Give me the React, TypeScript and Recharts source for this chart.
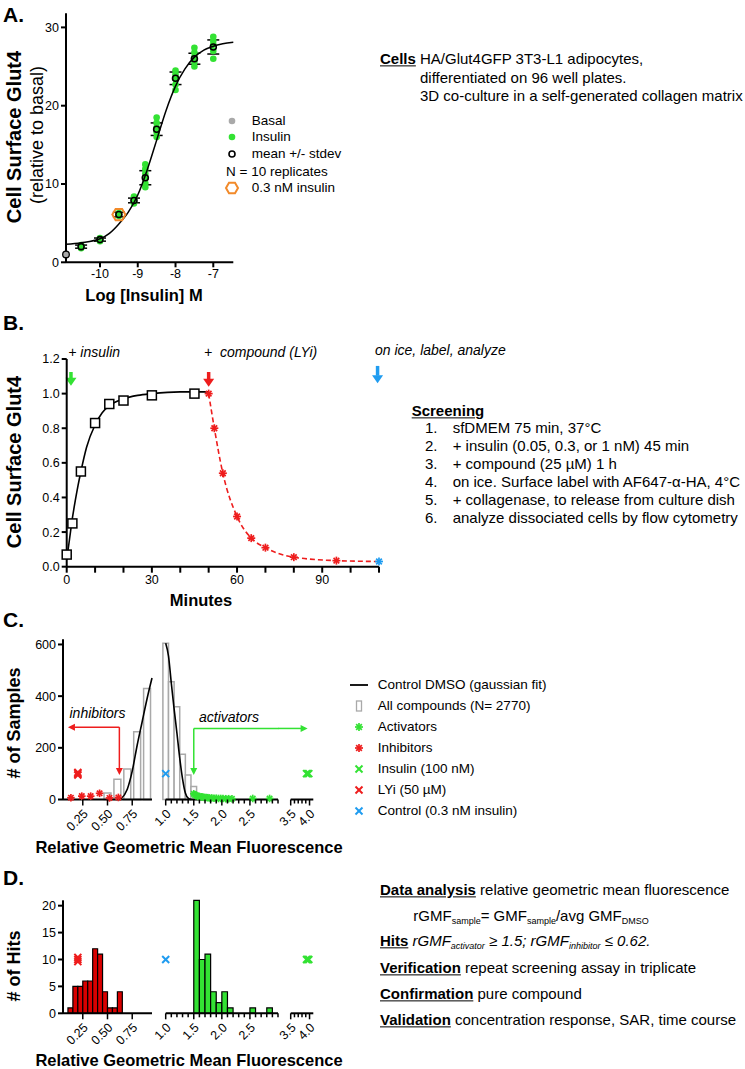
import React from "react";
import {
  ScatterChart,
  Scatter,
  XAxis,
  YAxis,
  ErrorBar,
  ReferenceLine,
  ReferenceArea,
} from "recharts";

const FONT = "'Liberation Sans', Arial, Helvetica, sans-serif";
const GREEN = "#33e233";
const RED = "#ee1d1d";
const BLUE = "#1f9cf0";
const ORANGE = "#f28a2a";
const GRAY = "#a9a9a9";
const DRED = "#d90000";

// ---------- A: insulin dose response ----------
const logInsulin = [-10.5, -10, -9.5, -9.1, -8.8, -8.5, -8, -7.5, -7];
const meanGlut4 = [2.0, 2.9, 6.1, 7.9, 10.8, 17.0, 23.5, 26.0, 27.5];
const sdGlut4 = [0.2, 0.2, 0.3, 0.3, 0.9, 0.8, 0.8, 0.7, 0.9];
const replicates = [
  [1.8, 2.0, 2.2],
  [2.7, 2.9, 3.1],
  [5.9, 6.1, 6.3],
  [7.5, 7.8, 8.1, 8.4],
  [9.6, 10.1, 10.7, 11.3, 11.9, 12.5],
  [16.0, 16.6, 17.2, 17.8, 18.5],
  [22.0, 22.7, 23.4, 24.0, 24.5],
  [25.0, 25.6, 26.2, 26.8, 27.4],
  [26.0, 27.0, 27.8, 28.3, 28.8],
];
const basalLog = [-10.9];
const basalGlut4 = [1.0];
const lowDoseLog = [-9.5];
const lowDoseGlut4 = [6.1];
const fitLog = [-10.9, -10.5, -10, -9.75, -9.5, -9.25, -9, -8.75, -8.5, -8.25, -8, -7.75, -7.5, -7.25, -7, -6.75, -6.47];
const fitGlut4 = [2.3, 2.5, 3.0, 3.7, 4.9, 6.4, 8.6, 11.8, 15.6, 19.4, 22.5, 24.7, 26.2, 27.1, 27.6, 27.9, 28.1];

// ---------- B: time course ----------
const riseMin = [0, 2, 5, 10, 15, 20, 30, 45];
const riseGlut4 = [0.07, 0.25, 0.55, 0.83, 0.94, 0.96, 0.99, 1.0];
const riseFitMin = [0, 1, 2, 3, 4, 5, 7, 10, 12.5, 15, 20, 25, 30, 40, 50];
const riseFitGlut4 = [0.04, 0.16, 0.28, 0.38, 0.47, 0.55, 0.69, 0.82, 0.89, 0.93, 0.97, 0.99, 1.0, 1.01, 1.01];
const decayMin = [50, 52, 55, 60, 65, 70, 80, 95];
const decayGlut4 = [1.0, 0.8, 0.54, 0.29, 0.165, 0.11, 0.055, 0.035];
const decayFitMin = [50, 52, 55, 60, 65, 70, 80, 95, 110];
const decayFitGlut4 = [1.0, 0.8, 0.54, 0.29, 0.165, 0.11, 0.055, 0.035, 0.03];
const iceMin = [110];
const iceGlut4 = [0.03];
const bTicks = [0, 10, 20, 30, 40, 50, 60, 70, 80, 90, 100, 110];
const bLabels = ["0", "", "", "30", "", "", "60", "", "", "90", "", ""];

// ---------- C: screen distribution ----------
const allBinMid = [0.5, 0.6, 0.7, 0.8, 0.9, 1.0, 1.1, 1.2, 1.3, 1.4, 1.5];
const allBinCount = [25, 78, 118, 262, 430, 605, 456, 359, 175, 95, 50];
const dmsoFitLeftX = [0.63, 0.7, 0.75, 0.8, 0.85, 0.9, 0.95];
const dmsoFitLeftY = [0, 40, 110, 210, 300, 390, 470];
const dmsoFitRightX = [1.0, 1.05, 1.1, 1.15, 1.2, 1.25, 1.3, 1.35, 1.4, 1.45];
const dmsoFitRightY = [605, 555, 450, 350, 257, 160, 80, 25, 5, 0];
const inhibX = [0.13, 0.24, 0.33, 0.42, 0.52, 0.61];
const inhibY = [7, 13, 13, 24, 6, 8];
const activX = [1.5, 1.52, 1.55, 1.57, 1.6, 1.63, 1.66, 1.69, 1.72, 1.75, 1.78, 1.82, 1.86, 1.9, 1.94, 1.98, 2.02, 2.07, 2.12, 2.18, 2.55, 2.85];
const activY = [22, 18, 15, 12, 12, 10, 10, 8, 8, 7, 6, 6, 5, 5, 4, 4, 4, 3, 3, 3, 4, 4];
const lyiX = [0.2, 0.2, 0.2];
const lyiYC = [95, 100, 105];
const ctrlX = [1.0];
const ctrlYC = [100];
const insX = [3.92, 3.95, 3.98];
const insYC = [100, 100, 100];

// ---------- D: hits ----------
const inhibBinStart = [0.1, 0.15, 0.2, 0.25, 0.3, 0.35, 0.4, 0.45, 0.5, 0.55, 0.6];
const inhibHits = [1, 5, 5, 6, 6, 12, 11, 4, 1, 1, 4];
const activBinStart = [1.5, 1.6, 1.7, 1.8, 1.9, 2.0, 2.1, 2.5, 2.8];
const activHits = [21, 10, 11, 4, 2, 4, 1, 1, 1];
const lyiYD = [9.6, 10, 10.4];
const ctrlYD = [10];
const insYD = [10, 10, 10];

// broken x axis segments (C and D)
const seg1Ticks = [0.25, 0.5, 0.75];
const seg1Labels = ["0.25", "0.50", "0.75"];
const seg2Ticks = [1.0, 1.1, 1.2, 1.3, 1.4, 1.5, 1.6, 1.7, 1.8, 1.9, 2.0, 2.1, 2.2, 2.3, 2.4, 2.5, 2.6, 2.7, 2.8, 2.9, 3.0];
const seg2Labels = ["1.0", "", "", "", "", "1.5", "", "", "", "", "2.0", "", "", "", "", "2.5", "", "", "", "", ""];
const seg3Ticks = [3.5, 3.6, 3.7, 3.8, 3.9, 4.0];
const seg3Labels = ["3.5", "", "", "", "", "4.0"];

const pts = (xs: number[], ys: number[]) => xs.map((x, i) => ({ x, y: ys[i] }));

// ---------- marker shapes ----------
const Nothing = () => <g />;
const dot = (r: number, fill: string, stroke = "none", sw = 0) => (p: any) => (
  <circle cx={p.cx} cy={p.cy} r={r} fill={fill} stroke={stroke} strokeWidth={sw} />
);
const square = (p: any) => (
  <rect x={p.cx - 4.5} y={p.cy - 4.5} width={9} height={9} fill="#fff" stroke="#000" strokeWidth={1.5} />
);
const star = (color: string, r = 4) => (p: any) => {
  const d = r * 0.707;
  return (
    <g stroke={color} strokeWidth={1.7}>
      <line x1={p.cx - r} y1={p.cy} x2={p.cx + r} y2={p.cy} />
      <line x1={p.cx} y1={p.cy - r} x2={p.cx} y2={p.cy + r} />
      <line x1={p.cx - d} y1={p.cy - d} x2={p.cx + d} y2={p.cy + d} />
      <line x1={p.cx - d} y1={p.cy + d} x2={p.cx + d} y2={p.cy - d} />
    </g>
  );
};
const cross = (color: string, r = 3.5) => (p: any) => (
  <g stroke={color} strokeWidth={2}>
    <line x1={p.cx - r} y1={p.cy - r} x2={p.cx + r} y2={p.cy + r} />
    <line x1={p.cx - r} y1={p.cy + r} x2={p.cx + r} y2={p.cy - r} />
  </g>
);
const hexPath = (cx: number, cy: number, r: number) =>
  [0, 1, 2, 3, 4, 5]
    .map((k) => {
      const a = (Math.PI / 3) * k;
      return `${k === 0 ? "M" : "L"}${cx + r * Math.cos(a)},${cy + r * Math.sin(a)}`;
    })
    .join("") + "Z";
const hexagon = (p: any) => <path d={hexPath(p.cx, p.cy, 6.5)} fill="none" stroke={ORANGE} strokeWidth={2} />;

// arrow drawn along a reference segment
const arrow = (color: string, w: number, head: boolean, hl: number, hw: number, extendStart = 0) => (p: any) => {
  const { x1, y1, x2, y2 } = p;
  const dx = x2 - x1;
  const dy = y2 - y1;
  const len = Math.hypot(dx, dy) || 1;
  const ux = dx / len;
  const uy = dy / len;
  const sx = x1 - ux * extendStart;
  const sy = y1 - uy * extendStart;
  const ex = head ? x2 - ux * hl : x2;
  const ey = head ? y2 - uy * hl : y2;
  return (
    <g>
      <line x1={sx} y1={sy} x2={ex + ux * 0.5} y2={ey + uy * 0.5} stroke={color} strokeWidth={w} />
      {head && (
        <polygon
          points={`${x2},${y2} ${ex - uy * hw},${ey + ux * hw} ${ex + uy * hw},${ey - ux * hw}`}
          fill={color}
        />
      )}
    </g>
  );
};

const axisStyle = { stroke: "#000", strokeWidth: 2 };
const tickStyle = { fill: "#000", fontSize: 12.5, fontFamily: FONT };

const segTick = (ticks: number[], labels: string[]) => (p: any) => {
  const v = p.payload.value;
  const i = ticks.findIndex((t) => Math.abs(t - v) < 1e-6);
  const lab = i >= 0 ? labels[i] : "";
  const len = lab ? 6 : 4;
  const tx = p.x + 6;
  const ty = p.y + 15;
  return (
    <g>
      <line x1={p.x} y1={p.y} x2={p.x} y2={p.y + len} stroke="#000" strokeWidth={1.5} />
      {lab && (
        <text x={tx} y={ty} transform={`rotate(-45 ${tx} ${ty})`} textAnchor="end" fontSize={12.5} fill="#000" fontFamily={FONT}>
          {lab}
        </text>
      )}
    </g>
  );
};

const T = ({ x, y, size = 15, bold = false, italic = false, anchor = "start", children }: any) => (
  <div
    style={{
      position: "absolute",
      left: x,
      top: y,
      transform: `translate(${anchor === "middle" ? "-50%" : anchor === "end" ? "-100%" : "0"}, -50%)`,
      fontSize: size,
      fontWeight: bold ? 700 : 400,
      fontStyle: italic ? "italic" : "normal",
      whiteSpace: "nowrap",
      lineHeight: 1.15,
    }}
  >
    {children}
  </div>
);

const VT = ({ x, y, size = 18, bold = true, children }: any) => (
  <div
    style={{
      position: "absolute",
      left: x,
      top: y,
      transform: "translate(-50%, -50%) rotate(-90deg)",
      fontSize: size,
      fontWeight: bold ? 700 : 400,
      whiteSpace: "nowrap",
      lineHeight: 1,
    }}
  >
    {children}
  </div>
);

const Sub = ({ children }: any) => <sub style={{ fontSize: 9, verticalAlign: "-3px" }}>{children}</sub>;

const Mk = ({ children }: any) => (
  <svg width={16} height={14} style={{ position: "absolute", left: -8, top: -7, overflow: "visible" }}>
    {children}
  </svg>
);

const LegendItem = ({ x, tx, y, marker, children, size = 13.5 }: any) => (
  <>
    <div style={{ position: "absolute", left: x, top: y, width: 0, height: 0 }}>
      <Mk>{marker}</Mk>
    </div>
    <T x={tx} y={y} size={size}>
      {children}
    </T>
  </>
);

// ---------- broken axis segment chart ----------
const SEGS = [
  { left: 0, width: 158, ml: 0, mr: 6, yw: 63, domain: [0.05, 0.95], ticks: seg1Ticks, labels: seg1Labels },
  { left: 158, width: 120, ml: 7.7, mr: 0, yw: 0, domain: [1.0, 3.0], ticks: seg2Ticks, labels: seg2Labels },
  { left: 278, width: 52, ml: 12.7, mr: 16.7, yw: 0, domain: [3.5, 4.1], ticks: seg3Ticks, labels: seg3Labels },
];

function SegChart({ seg, top, height, mt, yDomain, yTicks, children }: any) {
  return (
    <div style={{ position: "absolute", left: seg.left, top }}>
      <ScatterChart width={seg.width} height={height} margin={{ top: mt, right: seg.mr, bottom: 0, left: seg.ml }}>
        <XAxis
          type="number"
          dataKey="x"
          domain={seg.domain}
          ticks={seg.ticks}
          interval={0}
          height={40}
          axisLine={axisStyle}
          tickLine={false}
          tickSize={0}
          tickMargin={0}
          tick={segTick(seg.ticks, seg.labels)}
        />
        <YAxis
          type="number"
          dataKey="y"
          domain={yDomain}
          ticks={yTicks}
          interval={0}
          hide={seg.yw === 0}
          width={seg.yw}
          axisLine={axisStyle}
          tickLine={axisStyle}
          tickSize={5}
          tick={tickStyle}
        />
        {children}
      </ScatterChart>
    </div>
  );
}

export default function App() {
  const reps = logInsulin.flatMap((x, i) => replicates[i].map((y) => ({ x, y })));
  const means = logInsulin.map((x, i) => ({ x, y: meanGlut4[i], e: sdGlut4[i] }));

  const cTop = 630;
  const cMt = 9.3;
  const cH = 9.3 + 160.2 + 40;
  const dTop = 890;
  const dMt = 10.3;
  const dH = 10.3 + 113 + 40;

  const allBarsSeg = (lo: number, hi: number, half: number) =>
    allBinMid
      .map((m, i) => ({ m, c: allBinCount[i] }))
      .filter((b) => b.m >= lo && b.m <= hi)
      .map((b) => (
        <ReferenceArea
          key={`all${b.m}`}
          x1={b.m - half}
          x2={b.m + half}
          y1={0}
          y2={b.c}
          ifOverflow="visible"
          fill="#fff"
          fillOpacity={1}
          stroke={GRAY}
          strokeWidth={1.5}
        />
      ));

  const hitBars = (starts: number[], counts: number[], w: number, color: string) =>
    starts.map((s, i) => (
      <ReferenceArea
        key={`h${s}`}
        x1={s}
        x2={s + w}
        y1={0}
        y2={counts[i]}
        ifOverflow="visible"
        fill={color}
        fillOpacity={1}
        stroke="#000"
        strokeWidth={1.2}
      />
    ));

  return (
    <div
      style={{
        position: "absolute",
        left: 0,
        top: 0,
        width: 745,
        height: 1069,
        background: "#fff",
        fontFamily: FONT,
        color: "#000",
        overflow: "hidden",
      }}
    >
      <style>{`.recharts-surface{overflow:visible}`}</style>

      {/* ---------------- A ---------------- */}
      <T x={3} y={15} size={21} bold>A.</T>
      <div style={{ position: "absolute", left: 0, top: 0 }}>
        <ScatterChart width={250} height={300} margin={{ top: 13.3, right: 16.7, bottom: 0, left: 0 }}>
          <XAxis
            type="number"
            dataKey="x"
            domain={[-10.9, -6.47]}
            ticks={[-10, -9, -8, -7]}
            interval={0}
            height={37.7}
            axisLine={axisStyle}
            tickLine={axisStyle}
            tickSize={5}
            tick={tickStyle}
          />
          <YAxis
            type="number"
            dataKey="y"
            domain={[0, 31.8]}
            ticks={[0, 10, 20, 30]}
            interval={0}
            width={66}
            axisLine={axisStyle}
            tickLine={axisStyle}
            tickSize={5}
            tick={tickStyle}
          />
          <Scatter data={reps} shape={dot(3.3, GREEN)} isAnimationActive={false} />
          <Scatter
            data={pts(fitLog, fitGlut4)}
            shape={Nothing}
            line={{ stroke: "#000", strokeWidth: 1.5 }}
            lineJointType="monotoneX"
            isAnimationActive={false}
          />
          <Scatter data={means} shape={dot(3, "none", "#000", 1.6)} isAnimationActive={false}>
            <ErrorBar dataKey="e" direction="y" width={6} stroke="#000" strokeWidth={1.5} />
          </Scatter>
          <Scatter data={pts(basalLog, basalGlut4)} shape={dot(3.3, GRAY, "#000", 1.3)} isAnimationActive={false} />
          <Scatter data={pts(lowDoseLog, lowDoseGlut4)} shape={hexagon} isAnimationActive={false} />
        </ScatterChart>
      </div>
      <VT x={14} y={137} size={20}>Cell Surface Glut4</VT>
      <VT x={37} y={135} bold={false} size={18}>(relative to basal)</VT>
      <T x={144} y={295} size={16.5} bold anchor="middle">Log [Insulin] M</T>

      <LegendItem x={232} tx={251.7} y={120.7} marker={<circle cx={8} cy={7} r={3.3} fill={GRAY} />}>Basal</LegendItem>
      <LegendItem x={232} tx={251.7} y={137.3} marker={<circle cx={8} cy={7} r={3.3} fill={GREEN} />}>Insulin</LegendItem>
      <LegendItem x={232} tx={251.7} y={154} marker={<circle cx={8} cy={7} r={3} fill="none" stroke="#000" strokeWidth={1.6} />}>mean +/- stdev</LegendItem>
      <T x={226} y={171.7} size={13.5}>N = 10 replicates</T>
      <LegendItem x={232} tx={251.7} y={188.3} marker={<path d={hexPath(8, 7, 6)} fill="none" stroke={ORANGE} strokeWidth={2} />}>0.3 nM insulin</LegendItem>

      <T x={380} y={59.3}>
        <b style={{ textDecoration: "underline" }}>Cells</b> HA/Glut4GFP 3T3-L1 adipocytes,
      </T>
      <T x={420} y={77.7}>differentiated on 96 well plates.</T>
      <T x={420} y={96}>3D co-culture in a self-generated collagen matrix</T>

      {/* ---------------- B ---------------- */}
      <T x={3} y={323.3} size={21} bold>B.</T>
      <div style={{ position: "absolute", left: 0, top: 340 }}>
        <ScatterChart width={400} height={256.7} margin={{ top: 19, right: 21, bottom: 0, left: 0 }}>
          <XAxis
            type="number"
            dataKey="x"
            domain={[0, 110]}
            ticks={bTicks}
            interval={0}
            height={30}
            axisLine={axisStyle}
            tickLine={axisStyle}
            tickSize={6}
            tick={tickStyle}
            tickFormatter={(v: number) => bLabels[bTicks.indexOf(v)] ?? ""}
          />
          <YAxis
            type="number"
            dataKey="y"
            domain={[0, 1.2]}
            ticks={[0, 0.2, 0.4, 0.6, 0.8, 1.0, 1.2]}
            interval={0}
            width={66.7}
            axisLine={axisStyle}
            tickLine={axisStyle}
            tickSize={5}
            tick={tickStyle}
            tickFormatter={(v: number) => v.toFixed(1)}
          />
          <Scatter
            data={pts(riseFitMin, riseFitGlut4)}
            shape={Nothing}
            line={{ stroke: "#000", strokeWidth: 1.6 }}
            lineJointType="monotoneX"
            isAnimationActive={false}
          />
          <Scatter
            data={pts(decayFitMin, decayFitGlut4)}
            shape={Nothing}
            line={{ stroke: RED, strokeWidth: 1.6, strokeDasharray: "5 3" }}
            lineJointType="monotoneX"
            isAnimationActive={false}
          />
          <Scatter data={pts(riseMin, riseGlut4)} shape={square} isAnimationActive={false} />
          <Scatter data={pts(decayMin, decayGlut4)} shape={star(RED)} isAnimationActive={false} />
          <Scatter data={pts(iceMin, iceGlut4)} shape={star(BLUE)} isAnimationActive={false} />
          <ReferenceLine
            segment={[{ x: 1.5, y: 1.125 }, { x: 1.5, y: 1.045 }]}
            ifOverflow="visible"
            shape={arrow(GREEN, 3.5, true, 8, 5.5)}
          />
          <ReferenceLine
            segment={[{ x: 50, y: 1.125 }, { x: 50, y: 1.04 }]}
            ifOverflow="visible"
            shape={arrow(RED, 3.5, true, 8, 5.5)}
          />
          <ReferenceLine
            segment={[{ x: 109.5, y: 1.16 }, { x: 109.5, y: 1.06 }]}
            ifOverflow="visible"
            shape={arrow(BLUE, 3.5, true, 8, 5.5)}
          />
        </ScatterChart>
      </div>
      <T x={68.3} y={351.7} size={14} italic>+ insulin</T>
      <T x={204} y={351.7} size={14} italic>+&nbsp;&nbsp;compound (LYi)</T>
      <T x={375} y={350} size={14} italic>on ice, label, analyze</T>
      <VT x={14} y={462} size={20}>Cell Surface Glut4</VT>
      <T x={201} y={600} size={16.5} bold anchor="middle">Minutes</T>

      <T x={411.7} y={410.7}>
        <b style={{ textDecoration: "underline" }}>Screening</b>
      </T>
      {[
        "sfDMEM 75 min, 37°C",
        "+ insulin (0.05, 0.3, or 1 nM) 45 min",
        "+ compound (25 µM) 1 h",
        "on ice. Surface label with AF647-α-HA, 4°C",
        "+ collagenase, to release from culture dish",
        "analyze dissociated cells by flow cytometry",
      ].map((s, i) => (
        <React.Fragment key={s}>
          <T x={425} y={428.3 + 18 * i}>{`${i + 1}.`}</T>
          <T x={452.7} y={428.3 + 18 * i}>{s}</T>
        </React.Fragment>
      ))}

      {/* ---------------- C ---------------- */}
      <T x={3} y={620} size={21} bold>C.</T>
      <SegChart seg={SEGS[0]} top={cTop} height={cH} mt={cMt} yDomain={[0, 620]} yTicks={[0, 200, 400, 600]}>
        {allBarsSeg(0.45, 0.95, 0.035)}
        <Scatter
          data={pts(dmsoFitLeftX, dmsoFitLeftY)}
          shape={Nothing}
          line={{ stroke: "#000", strokeWidth: 1.6 }}
          lineJointType="monotoneX"
          isAnimationActive={false}
        />
        <Scatter data={pts(inhibX, inhibY)} shape={star(RED, 3.8)} isAnimationActive={false} />
        <Scatter data={pts(lyiX, lyiYC)} shape={cross(RED)} isAnimationActive={false} />
        <ReferenceLine
          segment={[{ x: 0.62, y: 280 }, { x: 0.62, y: 95 }]}
          ifOverflow="visible"
          shape={arrow(RED, 1.5, true, 7, 3.5)}
        />
        <ReferenceLine
          segment={[{ x: 0.62, y: 280 }, { x: 0.1, y: 280 }]}
          ifOverflow="visible"
          shape={arrow(RED, 1.5, true, 7, 3.5)}
        />
      </SegChart>
      <SegChart seg={SEGS[1]} top={cTop} height={cH} mt={cMt} yDomain={[0, 620]} yTicks={[0, 200, 400, 600]}>
        {allBarsSeg(0.99, 1.6, 0.05)}
        <Scatter
          data={pts(dmsoFitRightX, dmsoFitRightY)}
          shape={Nothing}
          line={{ stroke: "#000", strokeWidth: 1.6 }}
          lineJointType="monotoneX"
          isAnimationActive={false}
        />
        <Scatter data={pts(activX, activY)} shape={star(GREEN, 3.8)} isAnimationActive={false} />
        <Scatter data={pts(ctrlX, ctrlYC)} shape={cross(BLUE)} isAnimationActive={false} />
        <ReferenceLine
          segment={[{ x: 1.5, y: 275 }, { x: 1.5, y: 95 }]}
          ifOverflow="visible"
          shape={arrow(GREEN, 1.5, true, 7, 3.5)}
        />
        <ReferenceLine
          segment={[{ x: 1.5, y: 275 }, { x: 3.0, y: 275 }]}
          ifOverflow="visible"
          shape={arrow(GREEN, 1.5, false, 0, 0)}
        />
      </SegChart>
      <SegChart seg={SEGS[2]} top={cTop} height={cH} mt={cMt} yDomain={[0, 620]} yTicks={[0, 200, 400, 600]}>
        <Scatter data={pts(insX, insYC)} shape={cross(GREEN)} isAnimationActive={false} />
        <ReferenceLine
          segment={[{ x: 3.5, y: 275 }, { x: 3.95, y: 275 }]}
          ifOverflow="visible"
          shape={arrow(GREEN, 1.5, true, 7, 3.5, 12.7)}
        />
      </SegChart>
      <T x={97.5} y={712.7} size={14} italic anchor="middle">inhibitors</T>
      <T x={229} y={717.3} size={14} italic anchor="middle">activators</T>
      <VT x={14} y={723}># of Samples</VT>
      <T x={189} y={846.7} size={16.5} bold anchor="middle">Relative Geometric Mean Fluorescence</T>

      <LegendItem x={358.5} tx={377.7} y={685} marker={<line x1={-1} y1={7} x2={17} y2={7} stroke="#000" strokeWidth={1.8} />}>Control DMSO (gaussian fit)</LegendItem>
      <LegendItem x={358.5} tx={377.7} y={706} marker={<rect x={5.5} y={2} width={5} height={10} fill="#fff" stroke={GRAY} strokeWidth={1.3} />}>All compounds (N= 2770)</LegendItem>
      <LegendItem x={358.5} tx={377.7} y={727} marker={<g transform="translate(8,7)">{star(GREEN, 4)({ cx: 0, cy: 0 })}</g>}>Activators</LegendItem>
      <LegendItem x={358.5} tx={377.7} y={748} marker={<g transform="translate(8,7)">{star(RED, 4)({ cx: 0, cy: 0 })}</g>}>Inhibitors</LegendItem>
      <LegendItem x={358.5} tx={377.7} y={769} marker={<g transform="translate(8,7)">{cross(GREEN)({ cx: 0, cy: 0 })}</g>}>Insulin (100 nM)</LegendItem>
      <LegendItem x={358.5} tx={377.7} y={790} marker={<g transform="translate(8,7)">{cross(RED)({ cx: 0, cy: 0 })}</g>}>LYi (50 µM)</LegendItem>
      <LegendItem x={358.5} tx={377.7} y={811} marker={<g transform="translate(8,7)">{cross(BLUE)({ cx: 0, cy: 0 })}</g>}>Control (0.3 nM insulin)</LegendItem>

      {/* ---------------- D ---------------- */}
      <T x={3} y={878} size={21} bold>D.</T>
      <SegChart seg={SEGS[0]} top={dTop} height={dH} mt={dMt} yDomain={[0, 21]} yTicks={[0, 5, 10, 15, 20]}>
        {hitBars(inhibBinStart, inhibHits, 0.05, DRED)}
        <Scatter data={pts(lyiX, lyiYD)} shape={cross(RED)} isAnimationActive={false} />
      </SegChart>
      <SegChart seg={SEGS[1]} top={dTop} height={dH} mt={dMt} yDomain={[0, 21]} yTicks={[0, 5, 10, 15, 20]}>
        {hitBars(activBinStart, activHits, 0.1, GREEN)}
        <Scatter data={pts(ctrlX, ctrlYD)} shape={cross(BLUE)} isAnimationActive={false} />
      </SegChart>
      <SegChart seg={SEGS[2]} top={dTop} height={dH} mt={dMt} yDomain={[0, 21]} yTicks={[0, 5, 10, 15, 20]}>
        <Scatter data={pts(insX, insYD)} shape={cross(GREEN)} isAnimationActive={false} />
      </SegChart>
      <VT x={14} y={966}># of Hits</VT>
      <T x={189} y={1060} size={16.5} bold anchor="middle">Relative Geometric Mean Fluorescence</T>

      <T x={380} y={890}>
        <b style={{ textDecoration: "underline" }}>Data analysis</b> relative geometric mean fluorescence
      </T>
      <T x={413.3} y={916.7}>
        rGMF<Sub>sample</Sub>= GMF<Sub>sample</Sub>/avg GMF<Sub>DMSO</Sub>
      </T>
      <T x={380} y={941.7}>
        <b style={{ textDecoration: "underline" }}>Hits</b>{" "}
        <i>
          rGMF<Sub>activator</Sub> ≥ 1.5; rGMF<Sub>inhibitor</Sub> ≤ 0.62.
        </i>
      </T>
      <T x={380} y={968.3}>
        <b style={{ textDecoration: "underline" }}>Verification</b> repeat screening assay in triplicate
      </T>
      <T x={380} y={994}>
        <b style={{ textDecoration: "underline" }}>Confirmation</b> pure compound
      </T>
      <T x={380} y={1020}>
        <b style={{ textDecoration: "underline" }}>Validation</b> concentration response, SAR, time course
      </T>
    </div>
  );
}
